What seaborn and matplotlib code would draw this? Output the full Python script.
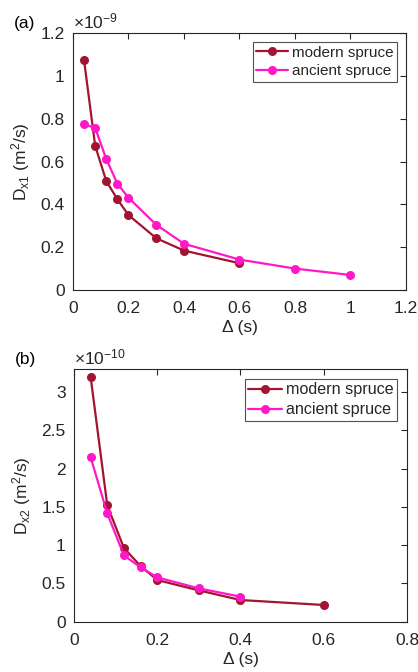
import numpy as np
import pandas as pd
import seaborn as sns
import matplotlib
matplotlib.use("Agg")
import matplotlib.pyplot as plt
from matplotlib.ticker import FuncFormatter, MultipleLocator

# Diffusion coefficients versus diffusion time, two wood samples
delta_modern_1 = [0.04, 0.08, 0.12, 0.16, 0.2, 0.3, 0.4, 0.6]
dx1_modern = [1.073, 0.674, 0.509, 0.424, 0.350, 0.242, 0.184, 0.125]   # x 1e-9
delta_ancient_1 = [0.04, 0.08, 0.12, 0.16, 0.2, 0.3, 0.4, 0.6, 0.8, 1.0]
dx1_ancient = [0.774, 0.758, 0.612, 0.497, 0.431, 0.305, 0.216, 0.142, 0.100, 0.070]  # x 1e-9

delta_modern_2 = [0.04, 0.08, 0.12, 0.16, 0.2, 0.3, 0.4, 0.6]
dx2_modern = [3.20, 1.52, 0.962, 0.727, 0.544, 0.409, 0.283, 0.218]    # x 1e-10
delta_ancient_2 = [0.04, 0.08, 0.12, 0.16, 0.2, 0.3, 0.4]
dx2_ancient = [2.15, 1.415, 0.866, 0.710, 0.579, 0.435, 0.327]          # x 1e-10

series_names = ["modern spruce", "ancient spruce"]
palette = {"modern spruce": "#a2142f", "ancient spruce": "#ff17c8"}

sns.set_style("white")
plt.rcParams["font.family"] = ["Liberation Sans", "DejaVu Sans"]
plt.rcParams["mathtext.default"] = "regular"

INK = "#262626"


def frame(d_mod, v_mod, d_anc, v_anc, scale):
    return pd.DataFrame({
        "delta": list(d_mod) + list(d_anc),
        "D": [v * scale for v in v_mod] + [v * scale for v in v_anc],
        "sample": [series_names[0]] * len(d_mod) + [series_names[1]] * len(d_anc),
    })


def panel(ax, df, scale, exp, xmax, ymax, ystep, ylabel, tag, legsize):
    sns.lineplot(data=df, x="delta", y="D", hue="sample", hue_order=series_names,
                 palette=palette, marker="o", markersize=6.5, markeredgewidth=0,
                 linewidth=1.6, ax=ax, sort=False, estimator=None)
    ax.set_xlim(0, xmax)
    ax.set_ylim(0, ymax * scale)
    ax.xaxis.set_major_locator(MultipleLocator(0.2))
    ax.yaxis.set_major_locator(MultipleLocator(ystep * scale))
    ax.xaxis.set_major_formatter(FuncFormatter(lambda v, p: f"{round(v, 6):g}"))
    ax.yaxis.set_major_formatter(FuncFormatter(lambda v, p: f"{round(v / scale, 6):g}"))
    ax.tick_params(direction="in", length=4, width=0.8, colors=INK, labelsize=12.5,
                   top=True, right=True, labelcolor=INK)
    ax.tick_params(axis="x", pad=8)
    ax.tick_params(axis="y", pad=6)
    for s in ax.spines.values():
        s.set_color(INK)
        s.set_linewidth(0.8)
    ax.set_xlabel("Δ (s)", fontsize=12.5, color=INK, labelpad=3)
    ax.set_ylabel(ylabel, fontsize=12.5, color=INK, labelpad=6)
    ax.text(0.0, 1.008, r"$\times$10$^{" + exp + "}$", transform=ax.transAxes,
            fontsize=12.5, color=INK, ha="left", va="bottom")
    ax.text(-0.178, 1.01, tag, transform=ax.transAxes, fontsize=12.5, color="black",
            ha="left", va="bottom")
    leg = ax.legend(loc="upper right", fontsize=legsize, frameon=True, fancybox=False,
                    handlelength=2.1, handletextpad=0.25, borderpad=0.22,
                    labelspacing=0.3, borderaxespad=0.6)
    leg.get_frame().set_edgecolor(INK)
    leg.get_frame().set_linewidth(0.8)
    leg.set_title(None)


fig = plt.figure(figsize=(4.18, 6.72), dpi=100)
ax1 = fig.add_axes([0.1746, 0.5685, 0.7967, 0.382])
ax2 = fig.add_axes([0.177, 0.0749, 0.7967, 0.3756])

panel(ax1, frame(delta_modern_1, dx1_modern, delta_ancient_1, dx1_ancient, 1e-9),
      1e-9, "-9", 1.2, 1.2, 0.2, r"D$_{x1}$ (m$^{2}$/s)", "(a)", 11)
panel(ax2, frame(delta_modern_2, dx2_modern, delta_ancient_2, dx2_ancient, 1e-10),
      1e-10, "-10", 0.8, 3.3, 0.5, r"D$_{x2}$ (m$^{2}$/s)", "(b)", 11.6)

fig.savefig("out.png", dpi=100)
